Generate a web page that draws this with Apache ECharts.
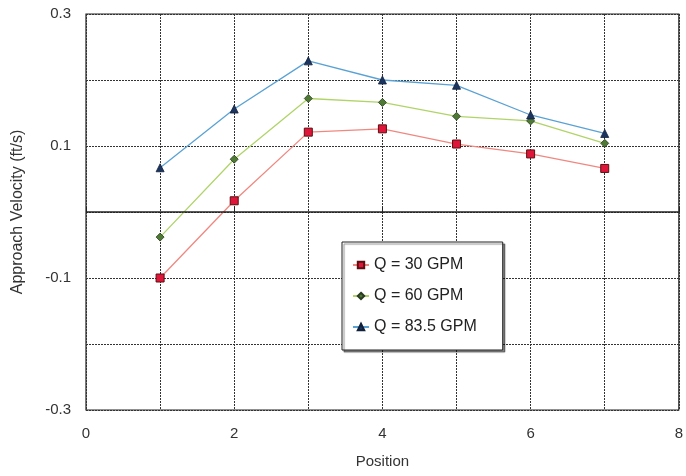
<!DOCTYPE html>
<html>
<head>
<meta charset="utf-8">
<script src="https://cdn.jsdelivr.net/npm/echarts@6/dist/echarts.min.js"></script>
<style>html,body{margin:0;padding:0;background:#fff;}#c{width:686px;height:476px;}</style>
</head>
<body>
<div id="c"></div>
<script>
const positions = [1, 2, 3, 4, 5, 6, 7];
const q30 = [-0.100, 0.017, 0.121, 0.126, 0.103, 0.088, 0.066];
const q60 = [-0.038, 0.080, 0.172, 0.166, 0.145, 0.138, 0.104];
const q835 = [0.067, 0.156, 0.229, 0.200, 0.192, 0.147, 0.119];
const seriesNames = ['Q = 30 GPM', 'Q = 60 GPM', 'Q = 83.5 GPM'];
const xTitle = 'Position';
const yTitle = 'Approach Velocity (ft/s)';

const pairs = arr => positions.map((p, i) => [p, arr[i]]);
const font = '"Liberation Sans", Arial, sans-serif';
const chart = echarts.init(document.getElementById('c'));
chart.setOption({
  backgroundColor: '#fff',
  animation: false,
  grid: { left: 86, top: 14, right: 2, bottom: 66, show: true, borderColor: '#222', borderWidth: 1.2, backgroundColor: 'transparent' },
  xAxis: {
    type: 'value', min: 0, max: 8, interval: 2,
    name: xTitle, nameLocation: 'middle', nameGap: 44,
    nameTextStyle: { fontFamily: font, fontSize: 15, color: '#333', letterSpacing: 1.5 },
    axisLine: { show: false },
    axisTick: { show: true, inside: true, length: 5, lineStyle: { color: '#222' } },
    axisLabel: { fontFamily: font, fontSize: 15, color: '#333', margin: 16 },
    splitLine: { show: true, lineStyle: { color: '#333', type: [2, 1], width: 1 } },
    minorTick: { show: false, splitNumber: 2 },
    minorSplitLine: { show: true, lineStyle: { color: '#333', type: [2, 1], width: 1 } }
  },
  yAxis: {
    type: 'value', min: -0.3, max: 0.3, interval: 0.1,
    name: yTitle, nameLocation: 'middle', nameGap: 60, nameRotate: 90,
    nameTextStyle: { fontFamily: font, fontSize: 16, color: '#333' },
    axisLine: { show: false },
    axisTick: { show: false },
    axisLabel: {
      fontFamily: font, fontSize: 15, color: '#333', margin: 15,
      formatter: v => { const k = Math.round(v * 10); return Math.abs(k) % 2 === 1 ? (k / 10).toString() : ''; }
    },
    splitLine: { show: true, lineStyle: { color: '#333', type: [2, 1], width: 1 } }
  },
  legend: {
    orient: 'vertical', left: 342, top: 242,
    padding: [15, 26, 15, 10], itemGap: 15, itemWidth: 16, itemHeight: 8,
    backgroundColor: '#fff', borderColor: '#222', borderWidth: 1,
    shadowColor: 'rgba(0,0,0,0.45)', shadowOffsetX: 2, shadowOffsetY: 2, shadowBlur: 1,
    textStyle: { fontFamily: font, fontSize: 16, color: '#222', letterSpacing: 0.3 },
    data: seriesNames
  },
  series: [
    {
      name: seriesNames[0], type: 'line', data: pairs(q30),
      symbol: 'rect', symbolSize: 8,
      lineStyle: { color: '#f08880', width: 1.3 },
      itemStyle: { color: '#e0153a', borderColor: '#5a1010', borderWidth: 1 },
      markLine: {
        silent: true, symbol: 'none', label: { show: false },
        lineStyle: { color: '#222', type: 'solid', width: 1.5 },
        data: [{ yAxis: 0 }]
      },
      z: 3
    },
    {
      name: seriesNames[1], type: 'line', data: pairs(q60),
      symbol: 'diamond', symbolSize: 8,
      lineStyle: { color: '#b0d468', width: 1.3 },
      itemStyle: { color: '#4e7a34', borderColor: '#2a3a20', borderWidth: 0.8 },
      z: 4
    },
    {
      name: seriesNames[2], type: 'line', data: pairs(q835),
      symbol: 'triangle', symbolSize: 8,
      lineStyle: { color: '#5aa2d4', width: 1.3 },
      itemStyle: { color: '#1c3560', borderColor: '#10203a', borderWidth: 0.8 },
      z: 5
    }
  ]
});
</script>
</body>
</html>
